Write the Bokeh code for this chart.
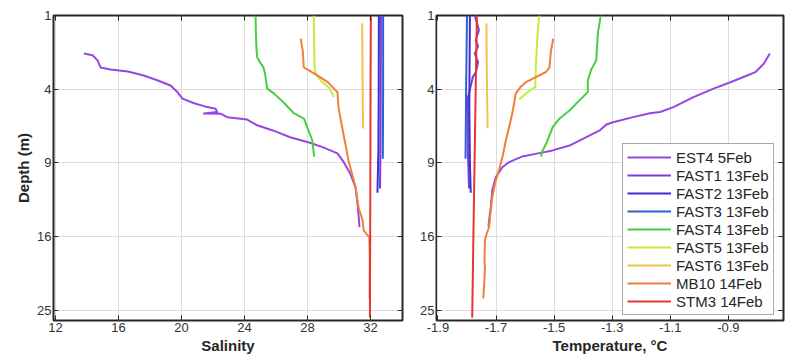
import numpy as np
from bokeh.plotting import figure
from bokeh.layouts import row
from bokeh.models import (FixedTicker, CustomJSTickFormatter, LinearAxis, Legend,
                          LegendItem, Range1d)
from bokeh.embed import file_html
from bokeh.resources import INLINE

labels = ["EST4 5Feb", "FAST1 13Feb", "FAST2 13Feb", "FAST3 13Feb", "FAST4 13Feb",
          "FAST5 13Feb", "FAST6 13Feb", "MB10 14Feb", "STM3 14Feb"]
colors = ["#9646e4", "#7a3be2", "#3b2fd6", "#2e5fcf", "#46cf3f",
          "#c4ec3e", "#f2c548", "#ee7f3c", "#e8352f"]

depth_ticks = [1, 4, 9, 16, 25]
sal_ticks = [12, 16, 20, 24, 28, 32]
temp_ticks = [-1.9, -1.7, -1.5, -1.3, -1.1, -0.9, -0.7]

# ---------------- Salinity profiles (depth m, salinity) ----------------
est4_sal_depth = [2.30, 2.37, 2.59, 2.91, 3.0, 3.1, 3.29, 3.54, 3.80, 4.17, 4.53, 4.8, 5.03,
                  5.13, 5.34, 5.42, 5.45, 5.66, 5.76, 5.82, 6.2, 6.55, 7.03, 7.45, 7.78,
                  8.24, 8.94, 9.86, 11.1, 13.0, 15.0]
est4_sal = [13.8, 14.35, 14.67, 14.86, 15.5, 16.6, 17.6, 18.5, 19.3, 19.75, 20.06, 20.8, 21.63,
            22.16, 22.27, 21.42, 22.5, 22.9, 23.75, 24.17, 24.8, 25.8, 26.9, 28.2, 29.0,
            29.9, 30.3, 30.7, 31.05, 31.2, 31.3]
fast1_sal_depth = [1.0, 4.0, 8.0, 11.2]
fast1_sal = [32.66, 32.65, 32.63, 32.6]
fast2_sal_depth = [1.0, 4.0, 8.0, 11.6]
fast2_sal = [32.53, 32.52, 32.5, 32.44]
fast3_sal_depth = [1.0, 4.0, 8.66]
fast3_sal = [32.8, 32.8, 32.78]
fast4_sal_depth = [1.0, 1.5, 2.0, 2.45, 2.7, 2.9, 3.2, 3.97, 4.23, 4.77, 5.41, 5.75, 6.32,
                   7.25, 8.26, 8.5]
fast4_sal = [24.7, 24.72, 24.75, 24.8, 25.0, 25.2, 25.3, 25.44, 25.86, 26.5, 27.13, 27.77,
             27.98, 28.3, 28.4, 28.42]
fast5_sal_depth = [1.0, 2.0, 3.0, 3.3, 3.54, 3.95, 4.44]
fast5_sal = [28.4, 28.42, 28.45, 28.6, 28.83, 29.4, 29.67]
fast6_sal_depth = [1.22, 3.0, 5.0, 6.42]
fast6_sal = [31.47, 31.49, 31.51, 31.53]
mb10_sal_depth = [1.72, 2.2, 2.9, 3.14, 3.37, 3.64, 4.17, 5.06, 6.35, 7.5, 8.8, 9.3, 11.1,
                  13.0, 14.3, 15.3, 15.85, 16.0, 18.0, 20.0, 23.4]
mb10_sal = [27.56, 27.7, 27.76, 28.3, 28.8, 29.3, 29.9, 29.97, 30.2, 30.4, 30.6, 30.7, 31.05,
            31.24, 31.5, 31.56, 31.8, 31.92, 31.95, 31.95, 31.94]
stm3_sal_depth = [1.0, 4.0, 9.0, 16.0, 20.0, 26.0]
stm3_sal = [32.02, 32.0, 31.99, 31.98, 31.97, 31.96]

# ---------------- Temperature profiles (depth m, deg C) ----------------
est4_tmp_depth = [2.30, 2.74, 3.13, 3.29, 3.63, 3.97, 4.44, 5.03, 5.33, 5.41, 5.66, 5.99,
                  6.14, 6.55, 7.02, 7.64, 8.01, 8.22, 8.48, 8.93, 9.35, 10.2, 11.37, 12.96,
                  14.3, 14.9]
est4_tmp = [-0.757, -0.778, -0.807, -0.835, -0.893, -0.951, -1.02, -1.089, -1.135, -1.17,
            -1.228, -1.297, -1.32, -1.343, -1.389, -1.447, -1.505, -1.551, -1.609, -1.655,
            -1.678, -1.701, -1.713, -1.718, -1.724, -1.726]
fast1_tmp_depth = [1.0, 1.44, 1.79, 2.0, 2.3, 2.66, 3.12, 3.37, 4.5, 8.0, 11.2]
fast1_tmp = [-1.773, -1.759, -1.77, -1.762, -1.773, -1.762, -1.769, -1.78, -1.797, -1.797,
             -1.793]
fast2_tmp_depth = [1.0, 5.0, 9.0, 11.6]
fast2_tmp = [-1.79, -1.792, -1.79, -1.787]
fast3_tmp_depth = [1.0, 4.0, 8.66]
fast3_tmp = [-1.80, -1.803, -1.805]
fast4_tmp_depth = [1.0, 1.2, 1.5, 2.59, 3.0, 3.54, 4.16, 4.63, 5.24, 5.76, 6.32, 6.9, 7.53,
                   8.14, 8.5]
fast4_tmp = [-1.34, -1.343, -1.349, -1.355, -1.372, -1.384, -1.384, -1.413, -1.447, -1.482,
             -1.505, -1.516, -1.528, -1.542, -1.545]
fast5_tmp_depth = [1.0, 1.55, 2.9, 3.89, 4.03, 4.32, 4.57]
fast5_tmp = [-1.551, -1.557, -1.563, -1.565, -1.58, -1.603, -1.62]
fast6_tmp_depth = [1.22, 3.0, 5.0, 6.4]
fast6_tmp = [-1.733, -1.732, -1.730, -1.729]
mb10_tmp_depth = [1.73, 2.2, 2.9, 3.12, 3.37, 3.63, 3.85, 4.24, 4.83, 5.43, 6.32, 7.25, 8.53,
                  9.6, 10.5, 12.0, 13.25, 14.97, 15.85, 16.4, 18.7, 19.5, 21.1, 23.4]
mb10_tmp = [-1.503, -1.511, -1.516, -1.528, -1.563, -1.597, -1.614, -1.632, -1.638, -1.644,
            -1.655, -1.666, -1.678, -1.69, -1.701, -1.713, -1.718, -1.724, -1.734, -1.738,
            -1.74, -1.738, -1.74, -1.744]
stm3_tmp_depth = [1.0, 4.0, 9.0, 16.0, 26.0]
stm3_tmp = [-1.766, -1.77, -1.774, -1.778, -1.782]

sal_profiles = [(est4_sal_depth, est4_sal), (fast1_sal_depth, fast1_sal),
                (fast2_sal_depth, fast2_sal), (fast3_sal_depth, fast3_sal),
                (fast4_sal_depth, fast4_sal), (fast5_sal_depth, fast5_sal),
                (fast6_sal_depth, fast6_sal), (mb10_sal_depth, mb10_sal),
                (stm3_sal_depth, stm3_sal)]
tmp_profiles = [(est4_tmp_depth, est4_tmp), (fast1_tmp_depth, fast1_tmp),
                (fast2_tmp_depth, fast2_tmp), (fast3_tmp_depth, fast3_tmp),
                (fast4_tmp_depth, fast4_tmp), (fast5_tmp_depth, fast5_tmp),
                (fast6_tmp_depth, fast6_tmp), (mb10_tmp_depth, mb10_tmp),
                (stm3_tmp_depth, stm3_tmp)]

FONT = "Liberation Sans"
DARK = "#262626"
Y_BOTTOM = 26.4   # deepest depth shown (sqrt-depth axis)
HEIGHT = 356


def style_axis(ax, ticks, fmt_code):
    ax.ticker = FixedTicker(ticks=ticks)
    ax.formatter = CustomJSTickFormatter(code=fmt_code)
    ax.major_tick_in = 5
    ax.major_tick_out = 0
    ax.major_tick_line_color = DARK
    ax.minor_tick_line_color = None
    ax.axis_line_color = None
    ax.major_label_text_font = FONT
    ax.major_label_text_font_size = "13px"
    ax.major_label_text_color = "#333333"
    ax.major_label_standoff = 2
    ax.axis_label_text_font = FONT
    ax.axis_label_text_font_style = "bold"
    ax.axis_label_text_font_size = "15px"
    ax.axis_label_text_color = DARK
    ax.axis_label_standoff = 2


def blank_axis(ticks):
    return LinearAxis(ticker=FixedTicker(ticks=ticks),
                      formatter=CustomJSTickFormatter(code="return '';"),
                      major_tick_in=5, major_tick_out=0, major_tick_line_color=DARK,
                      minor_tick_line_color=None, axis_line_color=None,
                      major_label_text_font_size="1px", major_label_standoff=0)


def make_fig(width, x0, x1, min_left, min_right, xticks, xfmt, xlabel, ylabel):
    p = figure(width=width, height=HEIGHT, output_backend="svg", toolbar_location=None,
               x_range=Range1d(x0, x1), y_range=Range1d(np.sqrt(Y_BOTTOM), 1.0),
               min_border_left=min_left, min_border_right=min_right,
               min_border_top=15, min_border_bottom=HEIGHT - 320)
    p.outline_line_color = DARK
    p.outline_line_width = 2
    p.background_fill_color = "white"
    p.border_fill_color = "white"
    style_axis(p.xaxis[0], xticks, xfmt)
    style_axis(p.yaxis[0], [np.sqrt(d) for d in depth_ticks],
               "return String(Math.round(tick*tick));")
    p.xaxis[0].axis_label = xlabel
    if ylabel:
        p.yaxis[0].axis_label = ylabel
    p.xgrid.grid_line_color = "#dcdcdc"
    p.ygrid.grid_line_color = "#dcdcdc"
    p.add_layout(blank_axis(xticks), "above")
    p.add_layout(blank_axis([np.sqrt(d) for d in depth_ticks]), "right")
    return p


p1 = make_fig(404, 11.87, 34.03, 53, 2, sal_ticks, "return String(tick);",
              "Salinity", "Depth (m)")
p2 = make_fig(385, -1.905, -0.71, 32, 6, temp_ticks, "return tick.toFixed(1);",
              "Temperature, \u00b0C", None)

for (d, s), c in zip(sal_profiles, colors):
    p1.line(s, np.sqrt(np.array(d)), line_color=c, line_width=2, line_join="round")

items = []
for (d, t), c, lab in zip(tmp_profiles, colors, labels):
    r = p2.line(t, np.sqrt(np.array(d)), line_color=c, line_width=2, line_join="round")
    items.append(LegendItem(label=lab, renderers=[r]))

legend = Legend(items=items, location=(186, 5), padding=4, spacing=0,
                label_height=18, glyph_height=18, glyph_width=44, label_standoff=5,
                label_text_font=FONT, label_text_font_size="15px", label_text_color=DARK,
                border_line_color="#555555", border_line_width=1,
                background_fill_color="white", background_fill_alpha=1.0, margin=0)
p2.add_layout(legend)

layout = row(p1, p2)
open("out.html", "w").write(file_html(layout, INLINE))
